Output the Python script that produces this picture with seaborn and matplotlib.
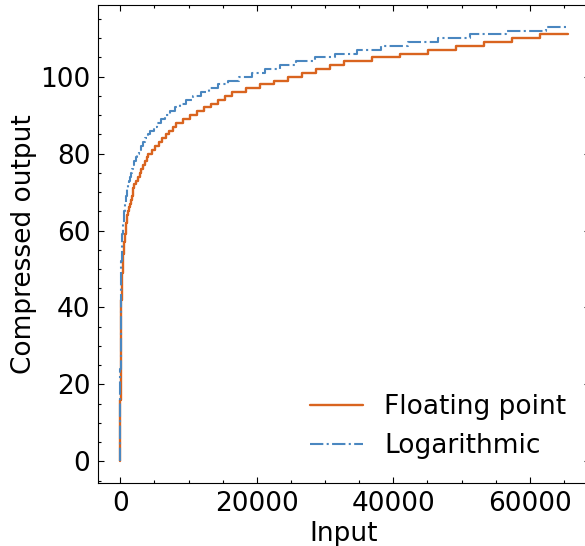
import matplotlib
matplotlib.use('Agg')
import matplotlib.pyplot as plt
from matplotlib.ticker import MultipleLocator
import seaborn as sns

# step breakpoints (input where each output level starts)
fp_input = [0, 4, 8, 12, 16, 32, 64, 128, 144, 160, 176, 192, 208, 224, 240,
            256, 288, 320, 352, 384, 416, 448, 480,
            512, 576, 640, 704, 768, 832, 896, 960,
            1024, 1152, 1280, 1408, 1536, 1664, 1792, 1920,
            2048, 2304, 2560, 2816, 3072, 3328, 3584, 3840,
            4096, 4608, 5120, 5632, 6144, 6656, 7168, 7680,
            8192, 9216, 10240, 11264, 12288, 13312, 14336, 15360,
            16384, 18432, 20480, 22528, 24576, 26624, 28672, 30720,
            32768, 36864, 40960, 45056, 49152, 53248, 57344, 61440, 65535]
fp_output = [0, 4, 8, 12, 16, 24, 32, 40, 41, 42, 43, 44, 45, 46, 47,
             48, 49, 50, 51, 52, 53, 54, 55,
             56, 57, 58, 59, 60, 61, 62, 63,
             64, 65, 66, 67, 68, 69, 70, 71,
             72, 73, 74, 75, 76, 77, 78, 79,
             80, 81, 82, 83, 84, 85, 86, 87,
             88, 89, 90, 91, 92, 93, 94, 95,
             96, 97, 98, 99, 100, 101, 102, 103,
             104, 105, 106, 107, 108, 109, 110, 111, 111]

log_input = [0, 1, 2, 3, 5, 10, 20, 30,
             48, 53, 59, 65, 72, 79, 87, 96, 106, 117,
             129, 142, 157, 173, 191, 210, 232, 256, 282, 311,
             344, 379, 418, 461, 509, 561, 619, 683, 753, 831,
             917, 1010, 1120, 1230, 1360, 1500, 1650, 1820, 2010, 2220,
             2450, 2700, 2980, 3290, 3620, 4000, 4410, 4860, 5370, 5920,
             6530, 7200, 7950, 8770, 9670, 10670, 11770, 12980, 14320, 15790,
             17420, 19220, 21200, 23390, 25800, 28460, 31390, 34630, 38200, 42140,
             46490, 51280, 56570, 62400, 65535]
log_output = [0, 7, 11, 14, 18, 24, 31, 35,
              40, 41, 42, 43, 44, 45, 46, 47, 48, 49,
              50, 51, 52, 53, 54, 55, 56, 57, 58, 59,
              60, 61, 62, 63, 64, 65, 66, 67, 68, 69,
              70, 71, 72, 73, 74, 75, 76, 77, 78, 79,
              80, 81, 82, 83, 84, 85, 86, 87, 88, 89,
              90, 91, 92, 93, 94, 95, 96, 97, 98, 99,
              100, 101, 102, 103, 104, 105, 106, 107, 108, 109,
              110, 111, 112, 113, 113]

sns.set_theme(style='ticks')
plt.rcParams.update({
    'font.family': ['DejaVu Sans'],
    'font.size': 19,
    'text.color': 'black',
    'axes.labelcolor': 'black',
    'axes.edgecolor': 'black',
    'xtick.color': 'black',
    'ytick.color': 'black',
    'axes.linewidth': 0.8,
})

fig = plt.figure(figsize=(5.85, 5.46), dpi=100)
ax = fig.add_axes([98 / 585, 63 / 546, 492 / 585, 478 / 546])

sns.lineplot(x=fp_input, y=fp_output, ax=ax, color='#d9641f', lw=1.7,
             drawstyle='steps-post', estimator=None, sort=False, label='Floating point')
sns.lineplot(x=log_input, y=log_output, ax=ax, color='#4a87c0', lw=1.5, linestyle='-.',
             drawstyle='steps-post', estimator=None, sort=False, label='Logarithmic')

ax.xaxis.set_major_locator(MultipleLocator(20000))
ax.xaxis.set_minor_locator(MultipleLocator(5000))
ax.yaxis.set_major_locator(MultipleLocator(20))
ax.yaxis.set_minor_locator(MultipleLocator(5))
ax.tick_params(which='both', direction='in', top=True, right=True, width=0.8, labelsize=19)
ax.tick_params(which='major', length=4.5, pad=5.5)
ax.tick_params(which='minor', length=2.5)

ax.set_xlabel('Input', fontsize=19, labelpad=3)
ax.set_ylabel('Compressed output', fontsize=19, labelpad=2)
ax.legend(loc='lower right', frameon=False, fontsize=19)

fig.savefig('out.png', dpi=100)
